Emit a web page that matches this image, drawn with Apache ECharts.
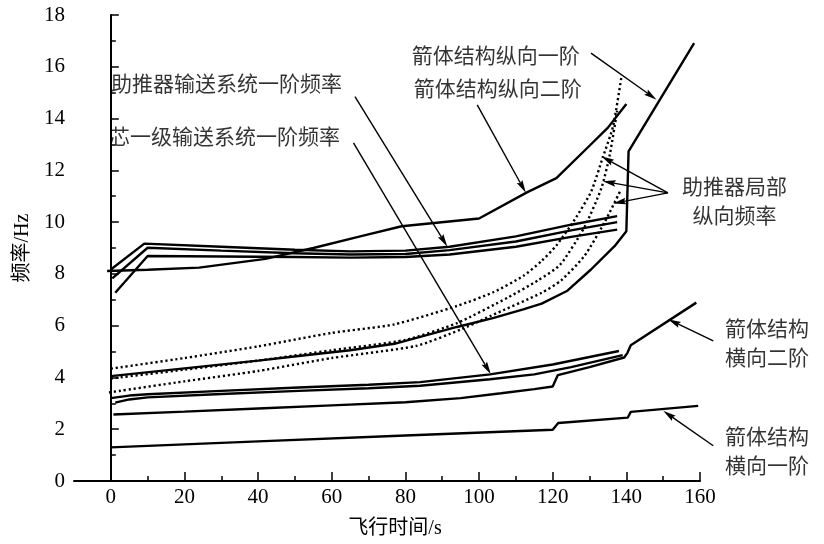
<!DOCTYPE html>
<html><head><meta charset="utf-8">
<script src="https://cdn.jsdelivr.net/npm/echarts@6/dist/echarts.min.js"></script>
<style>html,body{margin:0;padding:0;background:#fff}#c{width:824px;height:544px}</style>
</head><body><div id="c"></div>
<script>
// ---- data (time s, frequency Hz) ----
const latFirst = [[0,1.3],[40,1.53],[80,1.76],[120,1.98],[121.5,2.24],[140.4,2.45],[141.2,2.67],[159.5,2.9]];
const latSecond = [[0.7,2.57],[20,2.68],[40,2.8],[60,2.92],[80,3.04],[95,3.2],[106,3.39],[115,3.55],[120,3.65],[121.4,4.09],[130,4.4],[139.4,4.77],[140.3,4.95],[141.2,5.24],[159,6.89]];
const coreFeedA = [[0,3.2],[5,3.3],[10,3.35],[30,3.48],[51,3.61],[70,3.72],[84,3.82],[103,4.12],[120,4.5],[138,5.02]];
const coreFeedB = [[1.2,3.03],[5,3.15],[10,3.23],[30,3.36],[51,3.48],[70,3.58],[84,3.68],[103,3.93],[115,4.12],[125,4.4],[139,4.86]];
const longFirst = [[0,4.05],[20,4.35],[40,4.65],[51,4.83],[65,5.05],[77,5.3],[94,5.95],[104,6.3],[112,6.63],[117,6.85],[124,7.35],[130.4,8.17],[136.8,9.07],[140,9.65],[140.6,12.73],[158.4,16.91]];
const longSecond = [[-1,8.11],[10,8.16],[24,8.24],[42,8.58],[55,9.0],[68,9.46],[79,9.84],[100,10.14],[113,11.15],[121,11.7],[130,12.95],[135,13.65],[140,14.56]];
const boosterFeedA = [[0,8.17],[9.1,9.17],[30,9.05],[50,8.93],[65,8.87],[80,8.9],[92,9.05],[110,9.45],[125,9.9],[137.5,10.23]];
const boosterFeedB = [[0.4,7.83],[10,9.01],[30,8.9],[50,8.8],[65,8.75],[80,8.77],[92,8.92],[110,9.25],[125,9.68],[137.5,10.0]];
const boosterFeedC = [[1.2,7.27],[10,8.69],[30,8.67],[50,8.65],[65,8.63],[80,8.65],[92,8.75],[110,9.05],[125,9.43],[137.5,9.71]];
const boosterLocalA = [[0,4.34],[20,4.75],[40,5.2],[60,5.72],[77,6.05],[94,6.76],[104,7.3],[112,7.92],[117,8.5],[121,9.1],[126,10.1],[130.5,11.2],[133.6,12.5],[136.4,13.7],[138.7,15.65]];
const boosterLocalB = [[0,3.96],[20,4.3],[40,4.65],[60,5.05],[80,5.45],[94,6.1],[108,7.1],[116,7.75],[122,8.35],[128.6,9.8],[133.2,11.3],[135.5,12.6],[137.5,14.3]];
const boosterLocalC = [[-0.5,3.42],[20,3.85],[40,4.25],[60,4.75],[83,5.22],[95,5.85],[103,6.37],[117,7.27],[122.3,7.75],[128.6,8.69],[134,9.97],[138.5,11.25]];

const xTickLabels = [0,20,40,60,80,100,120,140,160];
const xMinorTicks = [10,30,50,70,90,110,130,150];

// annotation texts: [t, f, text]
const labels = [
  [31.4,15.38,'助推器输送系统一阶频率'],
  [30.9,13.34,'芯一级输送系统一阶频率'],
  [104.5,16.46,'箭体结构纵向一阶'],
  [105.1,15.19,'箭体结构纵向二阶'],
  [169.4,10.83,'助推器局部\n纵向频率'],
  [178.2,5.36,'箭体结构\n横向二阶'],
  [178.2,1.16,'箭体结构\n横向一阶']
];
// arrows: [fromT, fromF, toT, toF]
const arrows = [
  [66.3,14.85,91.4,9.05],
  [65.9,13.06,103.2,4.12],
  [130.4,16.53,148.2,14.73],
  [99.5,14.53,112.7,11.13],
  [151.3,11.13,133.2,12.54],
  [151.3,11.13,133.6,11.58],
  [151.3,11.13,136.4,10.72],
  [163.6,5.41,151.3,6.25],
  [163.6,1.36,150.0,2.71]
];

const serif = "'Liberation Serif','Noto Sans CJK SC'";
const cjk = "'Noto Sans CJK SC'";

function solid(name, data){
  return {name, type:'line', data, symbol:'none', smooth:false, clip:false,
    lineStyle:{color:'#000', width:2.4}, emphasis:{disabled:true}};
}
function dotted(name, data){
  return {name, type:'line', data, symbol:'none', smooth:0.2, clip:false,
    lineStyle:{color:'#000', width:2.4, type:[2.2,2.8]}, emphasis:{disabled:true}};
}

function renderArrow(params, api){
  const p1 = api.coord([api.value(0), api.value(1)]);
  const p2 = api.coord([api.value(2), api.value(3)]);
  const dx = p2[0]-p1[0], dy = p2[1]-p1[1];
  const len = Math.sqrt(dx*dx+dy*dy) || 1;
  const ux = dx/len, uy = dy/len;
  const hl = 13, hw = 3.2;
  const bx = p2[0]-ux*hl, by = p2[1]-uy*hl;
  return {
    type:'group',
    children:[
      {type:'line', shape:{x1:p1[0], y1:p1[1], x2:bx+ux*2, y2:by+uy*2},
       style:{stroke:'#000', lineWidth:1.4}},
      {type:'polygon', shape:{points:[[p2[0],p2[1]],[bx-uy*hw,by+ux*hw],[bx+ux*2,by+uy*2],[bx+uy*hw,by-ux*hw]]},
       style:{fill:'#000'}}
    ]
  };
}

const chart = echarts.init(document.getElementById('c'), null, {renderer:'canvas'});
chart.setOption({
  animation:false,
  backgroundColor:'#fff',
  grid:{left:74, right:124, top:15, bottom:62},
  xAxis:[{
    type:'value', min:-10, max:160, position:'bottom',
    name:'飞行时间/s', nameLocation:'middle', nameGap:38,
    nameTextStyle:{fontFamily:serif, fontSize:20, color:'#000', padding:[0,0,0,16]},
    axisLine:{show:true, lineStyle:{color:'#000', width:2}},
    axisTick:{show:true, inside:true, length:9, customValues:xTickLabels, lineStyle:{color:'#000', width:1.5}},
    axisLabel:{show:true, customValues:xTickLabels, color:'#000', fontFamily:serif, fontSize:21, margin:6},
    splitLine:{show:false}
  },{
    type:'value', min:-10, max:160, position:'bottom',
    axisLine:{show:false},
    axisTick:{show:true, inside:true, length:5, customValues:xMinorTicks, lineStyle:{color:'#000', width:1.5}},
    axisLabel:{show:false},
    splitLine:{show:false}
  }],
  yAxis:{
    type:'value', min:0, max:18, interval:2,
    name:'频率/Hz', nameLocation:'middle', nameGap:35, nameRotate:90,
    nameTextStyle:{fontFamily:serif, fontSize:20, color:'#000'},
    axisLine:{show:true, lineStyle:{color:'#000', width:2}},
    axisTick:{show:true, inside:true, length:8, lineStyle:{color:'#000', width:1.5}},
    minorTick:{show:true, splitNumber:2, length:5, lineStyle:{color:'#000', width:1.5}},
    axisLabel:{color:'#000', fontFamily:serif, fontSize:21, margin:9},
    splitLine:{show:false}
  },
  series:[
    solid('箭体结构横向一阶', latFirst),
    solid('箭体结构横向二阶', latSecond),
    solid('芯一级输送系统一阶频率A', coreFeedA),
    solid('芯一级输送系统一阶频率B', coreFeedB),
    solid('箭体结构纵向一阶', longFirst),
    solid('箭体结构纵向二阶', longSecond),
    solid('助推器输送系统一阶频率A', boosterFeedA),
    solid('助推器输送系统一阶频率B', boosterFeedB),
    solid('助推器输送系统一阶频率C', boosterFeedC),
    dotted('助推器局部纵向频率A', boosterLocalA),
    dotted('助推器局部纵向频率B', boosterLocalB),
    dotted('助推器局部纵向频率C', boosterLocalC),
    {
      name:'annotations', type:'scatter', symbolSize:0, clip:false, silent:true,
      data: labels.map(l => ({value:[l[0], l[1]], name:l[2]})),
      label:{show:true, position:'inside', formatter:p => p.name,
        color:'#000', fontFamily:cjk, fontSize:21, lineHeight:29, align:'center', verticalAlign:'middle'}
    },
    {
      name:'arrows', type:'custom', clip:false, silent:true,
      data: arrows,
      encode:{x:[0,2], y:[1,3]},
      renderItem: renderArrow
    }
  ]
});
</script></body></html>
